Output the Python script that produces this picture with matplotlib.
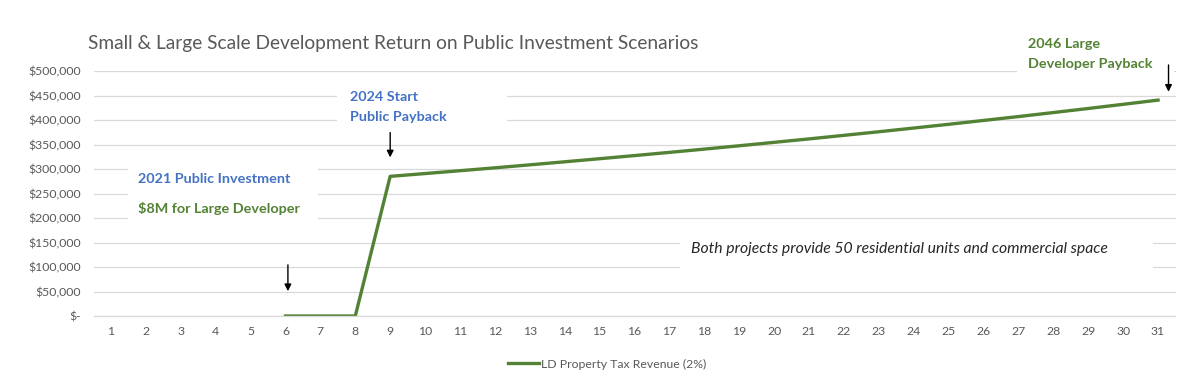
import numpy as np
import matplotlib.pyplot as plt
from matplotlib.patches import Rectangle
from matplotlib.ticker import FuncFormatter

# dati
anni = list(range(1, 32))
entrate_ld = [np.nan, np.nan, np.nan, np.nan, np.nan,
              0, 0, 0,
              285000, 290700, 296500, 302400, 308500, 314700, 321000,
              327400, 333900, 340600, 347400, 354400, 361400, 368700,
              376000, 383600, 391200, 399100, 407000, 415200, 423500,
              432000, 440600]
nome_serie = 'LD Property Tax Revenue (2%)'
titolo = 'Small & Large Scale Development Return on Public Investment Scenarios'

plt.rcParams['font.family'] = ['Lato', 'DejaVu Sans']

W, H = 1200, 381
fig = plt.figure(figsize=(12, 3.81), dpi=100)
ax = fig.add_axes([93.5 / W, 1 - 316 / H, 1082 / W, 245 / H])


def px(x, y):
    # pixel -> coordinate figura
    return x / W, 1 - y / H


verde = '#548235'
blu = '#4472C4'
grigio = '#595959'

ax.plot(anni, entrate_ld, color=verde, lw=2.4, zorder=2, label=nome_serie)

ax.set_xlim(0.5, 31.5)
ax.set_ylim(0, 500000)
ax.set_xticks(anni)
ax.set_yticks(range(0, 500001, 50000))
ax.yaxis.set_major_formatter(FuncFormatter(lambda v, p: '$-' if v == 0 else '${:,.0f}'.format(v)))
ax.tick_params(length=0, labelsize=8.8, labelcolor=grigio)
ax.tick_params(axis='x', pad=7)
ax.tick_params(axis='y', pad=9)
ax.set_axisbelow(True)
ax.yaxis.grid(True, color='#d9d9d9', lw=0.9)
for s in ['top', 'right', 'left']:
    ax.spines[s].set_visible(False)
ax.spines['bottom'].set_color('#d9d9d9')
ax.spines['bottom'].set_linewidth(0.9)

# riquadri bianchi dietro le etichette
for (x0, y0, x1, y1) in [(128, 158, 318, 228), (337, 84, 507, 130),
                         (680, 230, 1153, 280), (1017, 30, 1174, 84)]:
    ax.add_patch(Rectangle(px(x0, y1), (x1 - x0) / W, (y1 - y0) / H,
                           transform=fig.transFigure, facecolor='white',
                           edgecolor='none', zorder=1, clip_on=False))

fig.text(*px(88, 43), titolo, fontsize=13.8, color=grigio, va='center', ha='left')

testi = [
    (138, 179, '2021 Public Investment', blu),
    (138, 209, '$8M for Large Developer', verde),
    (350, 97, '2024 Start', blu),
    (350, 117, 'Public Payback', blu),
    (1028, 44, '2046 Large', verde),
    (1028, 64, 'Developer Payback', verde),
]
for x, y, t, c in testi:
    ax.text(*px(x, y), t, transform=fig.transFigure, fontsize=10.4, fontweight='bold',
            color=c, va='center', ha='left', zorder=3, clip_on=False)

ax.text(*px(691, 249), 'Both projects provide 50 residential units and commercial space',
        transform=fig.transFigure, fontsize=11.3, style='italic', color='#262626',
        va='center', ha='left', zorder=3, clip_on=False)

# frecce
for x, y_da, y_a in [(6.07, 110000, 45000), (9, 380000, 318000), (31.3, 518000, 452000)]:
    ax.annotate('', xy=(x, y_a), xytext=(x, y_da), annotation_clip=False, zorder=3,
                arrowprops=dict(arrowstyle='-|>', color='black', lw=1, mutation_scale=10))

leg = ax.legend(loc='center', bbox_to_anchor=px(607, 364), bbox_transform=fig.transFigure,
                frameon=False, fontsize=8.8, handlelength=2.6, handletextpad=0.15)
for t in leg.get_texts():
    t.set_color(grigio)

fig.savefig('out.png', dpi=100)
